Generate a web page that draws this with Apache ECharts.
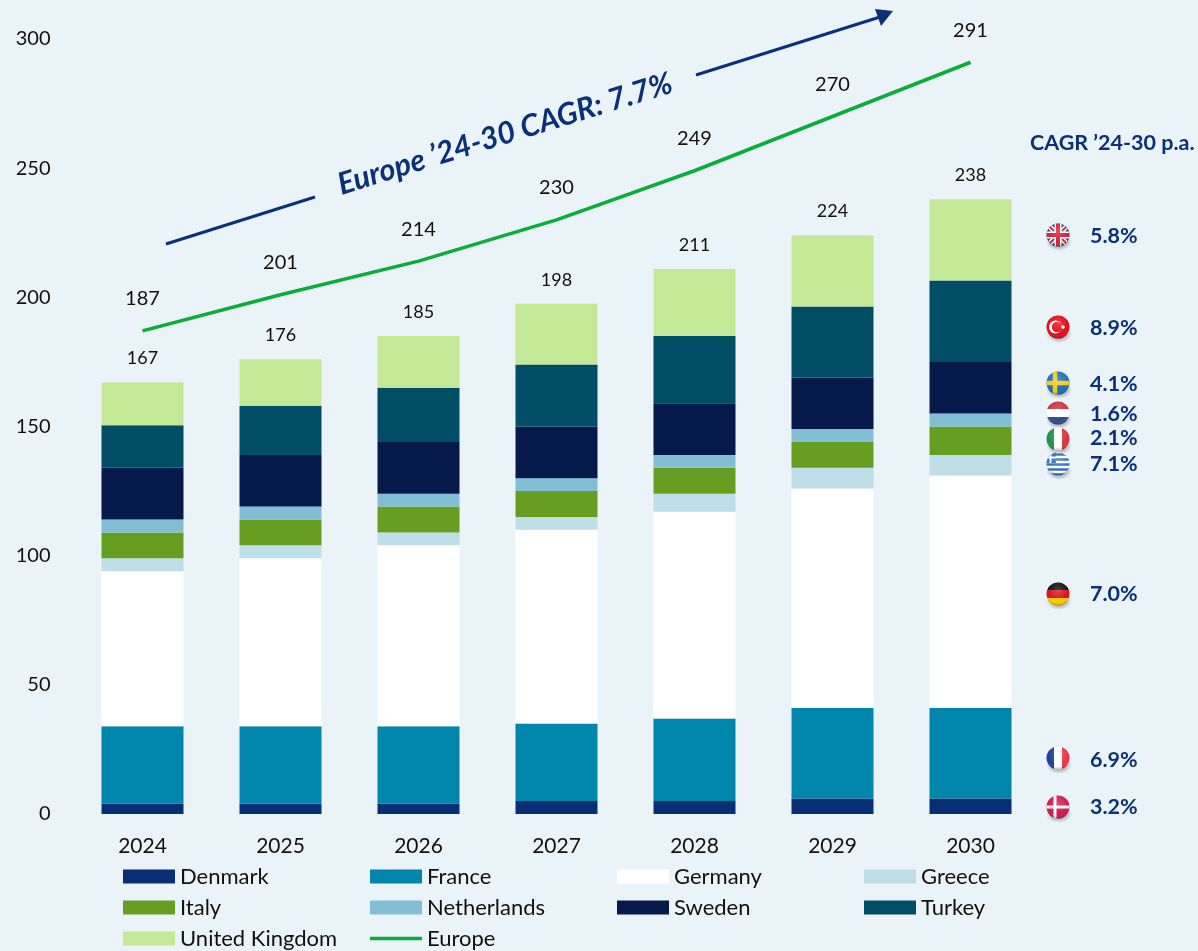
<!DOCTYPE html>
<html>
<head>
<meta charset="utf-8">
<title>Europe CAGR</title>
<script src="https://cdn.jsdelivr.net/npm/echarts@6/dist/echarts.min.js"></script>
<style>
  html, body { margin: 0; padding: 0; background: #EAF4F8; }
  #chart { width: 1198px; height: 951px; }
</style>
</head>
<body>
<div id="chart"></div>
<script>
const years = ['2024', '2025', '2026', '2027', '2028', '2029', '2030']

const denmark = [4, 4, 4, 5, 5, 6, 6]
const france = [30, 30, 30, 30, 32, 35, 35]
const germany = [60, 65, 70, 75, 80, 85, 90]
const greece = [5, 5, 5, 5, 7, 8, 8]
const italy = [10, 10, 10, 10, 10, 10, 11]
const netherlands = [5, 5, 5, 5, 5, 5, 5]
const sweden = [20, 20, 20, 20, 20, 20, 20]
const turkey = [16.5, 19, 21, 24, 26, 27.5, 31.5]
const unitedKingdom = [16.5, 18, 20, 23.5, 26, 27.5, 31.5]
const europe = [187, 201, 214, 230, 249, 270, 291]
const totals = [167, 176, 185, 198, 211, 224, 238]

const countryNames = ['Denmark', 'France', 'Germany', 'Greece', 'Italy', 'Netherlands', 'Sweden', 'Turkey', 'United Kingdom']
const countryColors = ['#082F74', '#0085AC', '#FFFFFF', '#BEDFE8', '#669E22', '#82BFD5', '#051A4B', '#004D66', '#C3E996']
const countryValues = [denmark, france, germany, greece, italy, netherlands, sweden, turkey, unitedKingdom]

const cagrLabels = ['5.8%', '8.9%', '4.1%', '1.6%', '2.1%', '7.1%', '7.0%', '6.9%', '3.2%']
const cagrFlags = ['uk', 'tr', 'se', 'nl', 'it', 'gr', 'de', 'fr', 'dk']
const flagRows = [235, 327, 383, 413, 439, 464, 594, 758, 807]
const cagrRows = [236.5, 328.5, 384.5, 414, 438.5, 464, 594.5, 760, 807.5]

const FONT = 'Lato, "Open Sans", sans-serif'
const NAVY = '#0B3077'

// flag artwork, drawn in a 30x32 box, circle centre 15,13
const flagArt = {
  uk: '<rect width="30" height="26" fill="#24418F"/>' +
    '<path d="M3 1L27 25M27 1L3 25" stroke="#fff" stroke-width="5"/>' +
    '<path d="M3 1L27 25M27 1L3 25" stroke="#D2213A" stroke-width="2"/>' +
    '<path d="M15 0V26M0 13H30" stroke="#fff" stroke-width="7"/>' +
    '<path d="M15 0V26M0 13H30" stroke="#D2213A" stroke-width="4"/>',
  tr: '<rect width="30" height="26" fill="#E30A17"/><circle cx="12.5" cy="13" r="6.5" fill="#fff"/>' +
    '<circle cx="14" cy="13" r="5.2" fill="#E30A17"/><circle cx="20" cy="13" r="1.8" fill="#fff"/>',
  se: '<rect width="30" height="26" fill="#1C6FB5"/><path d="M12 0V26M0 13H30" stroke="#F4C81E" stroke-width="4.5"/>',
  nl: '<rect width="30" height="26" fill="#fff"/><rect width="30" height="9" fill="#C8323F"/><rect y="17" width="30" height="9" fill="#2D4B8E"/>',
  it: '<rect width="30" height="26" fill="#fff"/><rect width="11" height="26" fill="#1E9150"/><rect x="19" width="11" height="26" fill="#D8323C"/>',
  gr: '<rect width="30" height="26" fill="#fff"/>' +
    '<path d="M0 3.5H30M0 8.5H30M0 13.5H30M0 18.5H30M0 23.5H30" stroke="#2F6FB8" stroke-width="2.5"/>' +
    '<rect x="2" y="1" width="11" height="11" fill="#2F6FB8"/><path d="M7.5 1V12M2 6.5H13" stroke="#fff" stroke-width="2"/>',
  de: '<rect width="30" height="9" fill="#111"/><rect y="9" width="30" height="8" fill="#D8121E"/><rect y="17" width="30" height="9" fill="#FFCC00"/>',
  fr: '<rect width="30" height="26" fill="#fff"/><rect width="11" height="26" fill="#1B3C9A"/><rect x="19" width="11" height="26" fill="#EE3344"/>',
  dk: '<rect width="30" height="26" fill="#D2184A"/><path d="M12 0V26M0 13H30" stroke="#fff" stroke-width="3"/>'
}

function flagImage(key) {
  const svg = '<svg xmlns="http://www.w3.org/2000/svg" width="30" height="32" viewBox="0 0 30 32"><defs>' +
    '<clipPath id="c"><circle cx="15" cy="13" r="11.5"/></clipPath>' +
    '<radialGradient id="g" cx="50%" cy="35%" r="65%"><stop offset="0" stop-color="#fff" stop-opacity=".22"/>' +
    '<stop offset=".7" stop-color="#fff" stop-opacity="0"/><stop offset="1" stop-color="#000" stop-opacity=".28"/></radialGradient>' +
    '<radialGradient id="s"><stop offset=".4" stop-color="#445" stop-opacity=".45"/><stop offset="1" stop-color="#445" stop-opacity="0"/></radialGradient>' +
    '</defs><ellipse cx="16" cy="20" rx="13" ry="9" fill="url(#s)"/>' +
    '<g clip-path="url(#c)">' + flagArt[key] + '</g><circle cx="15" cy="13" r="11.5" fill="url(#g)"/></svg>'
  return 'data:image/svg+xml;charset=utf-8,' + encodeURIComponent(svg)
}

const series = countryNames.map((name, i) => ({
  name,
  type: 'bar',
  stack: 'total',
  barWidth: 82,
  data: countryValues[i],
  itemStyle: { color: countryColors[i] },
  silent: true
}))

// totals on top of the last stack
series[series.length - 1].label = {
  show: true,
  position: 'top',
  distance: 15,
  fontFamily: FONT,
  fontSize: 18,
  color: '#111',
  formatter: p => totals[p.dataIndex]
}

// symbolSize 0 rather than symbol none, the labels hang off the symbols
series.push({
  name: 'Europe',
  type: 'line',
  data: europe,
  symbol: 'circle',
  symbolSize: 0,
  showSymbol: true,
  smooth: false,
  lineStyle: { color: '#0AAD3C', width: 3.5 },
  itemStyle: { color: '#0AAD3C' },
  label: { show: true, position: 'top', distance: 22, fontFamily: FONT, fontSize: 20, color: '#111' }
})

// one legend per entry, four columns
const legendNames = countryNames.concat('Europe')
const legend = legendNames.map((name, i) => ({
  data: [{ name, icon: 'rect' }],
  left: 123 + (i % 4) * 247,
  top: 865.5 + Math.floor(i / 4) * 31,
  padding: 0,
  itemWidth: 52,
  itemHeight: name === 'Europe' ? 3.5 : 14,
  itemStyle: { borderWidth: 0 },
  textStyle: { fontFamily: FONT, fontSize: 22, color: '#111' },
  selectedMode: false
}))

const graphic = [
  { type: 'line', shape: { x1: 166, y1: 244, x2: 315, y2: 197 }, style: { stroke: NAVY, lineWidth: 3 }, silent: true },
  { type: 'line', shape: { x1: 696, y1: 75, x2: 880, y2: 17 }, style: { stroke: NAVY, lineWidth: 3 }, silent: true },
  { type: 'polygon', shape: { points: [[893, 11], [875, 9], [881, 26]] }, style: { fill: NAVY }, silent: true },
  {
    type: 'text',
    x: 505, y: 134, rotation: 0.3,
    style: { text: 'Europe ’24-30 CAGR: 7.7%', fill: NAVY, font: 'italic bold 30.5px ' + FONT, align: 'center', verticalAlign: 'middle' }
  },
  {
    type: 'text',
    x: 1030, y: 143,
    style: { text: 'CAGR ’24-30 p.a.', fill: NAVY, font: 'bold 21.5px ' + FONT, align: 'left', verticalAlign: 'middle' }
  }
]

cagrLabels.forEach((text, i) => {
  graphic.push({
    type: 'image',
    silent: true,
    style: { image: flagImage(cagrFlags[i]), x: 1043, y: flagRows[i] - 13, width: 30, height: 32 }
  })
  graphic.push({
    type: 'text',
    x: 1090, y: cagrRows[i],
    style: { text, fill: NAVY, font: 'bold 21.5px ' + FONT, align: 'left', verticalAlign: 'middle' }
  })
})

const option = {
  animation: false,
  backgroundColor: '#EAF4F8',
  grid: { left: 73.5, right: 158.5, top: 39, bottom: 137 },
  legend,
  xAxis: {
    type: 'category',
    data: years,
    axisLine: { show: false },
    axisTick: { show: false },
    axisLabel: { color: '#111', fontFamily: FONT, fontSize: 21, margin: 22 }
  },
  yAxis: {
    type: 'value',
    min: 0,
    max: 300,
    interval: 50,
    axisLine: { show: false },
    axisTick: { show: false },
    splitLine: { show: false },
    axisLabel: { color: '#111', fontFamily: FONT, fontSize: 20, margin: 23 }
  },
  series,
  graphic
}

const chart = echarts.init(document.getElementById('chart'), null, { renderer: 'canvas' })
chart.setOption(option)
</script>
</body>
</html>
